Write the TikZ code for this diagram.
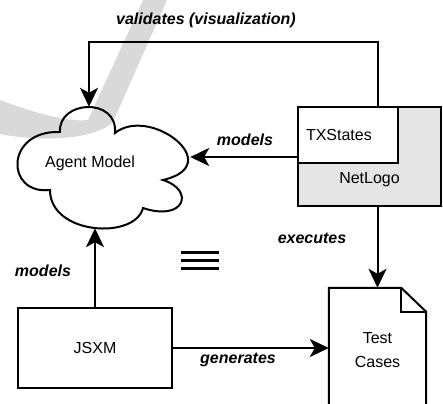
\documentclass[tikz,border=0pt]{standalone}
\usepackage{fontspec}
\setmainfont{Liberation Sans}
\usetikzlibrary{arrows.meta,calc}

\begin{document}
\begin{tikzpicture}[x=1pt,y=-1pt,
  every node/.style={font=\fontsize{16}{19}\selectfont},
  box/.style={draw,line width=2pt,inner sep=0pt},
  lbl/.style={font=\fontsize{16}{19}\selectfont\bfseries\itshape},
  arr/.style={line width=2pt,-{Stealth[length=19pt,width=18pt,inset=5pt]}}]
\useasboundingbox (0,0) rectangle (443,403);
\clip (0,0) rectangle (443,403);
\fill[black!15] (0,100) .. controls (40,115) and (70,122) .. (88,120) -- (143,0) -- (167,0) -- (113,122) .. controls (95,140) and (40,142) .. (0,134) -- cycle;
\node[box,minimum width=154pt,minimum height=80pt] (jsxm) at (95,348) {JSXM};
\node[box,fill=black!10,minimum width=143pt,minimum height=99pt,label={[yshift=-23pt]center:NetLogo}] (netlogo) at (369.5,156.5) {};
\node[box,fill=white,minimum width=100pt,minimum height=56pt,text width=84pt,inner xsep=8pt,align=left] (txs) at (348,135) {TXStates};
\node[minimum width=172pt,minimum height=121pt,inner sep=0pt,label={[xshift=-14pt,yshift=4pt]center:Agent Model}] (agent) at (104,167.5) {};
\draw[line width=2pt] (60,132) .. controls (58,100) and (118,97) .. (115,133) .. controls (150,105) and (228,165) .. (163,180) .. controls (195,190) and (185,222) .. (143,208) .. controls (135,240) and (50,235) .. (50,190) .. controls (5,195) and (5,130) .. (60,132) -- cycle;
\foreach \y in {252,260,268} \draw[line width=3pt] (181,\y) -- (219,\y);
\node[minimum width=97pt,minimum height=124pt,inner sep=0pt,align=center,font=\fontsize{16}{24}\selectfont] (doc) at (377.5,350) {Test\\Cases};
\draw[line width=2pt] (doc.south west) -- (doc.north west) -- ([xshift=-25pt]doc.north east) -- ([yshift=-24pt]doc.north east) -- (doc.south east) -- cycle;
\draw[line width=2pt] ([xshift=-25pt]doc.north east) -- ++(0,24) -- ([yshift=-24pt]doc.north east);
\draw[arr] (doc.north |- netlogo.south) -- (doc.north);
\draw[arr] (jsxm.east) -- (jsxm.east -| doc.west);
\draw[arr] (jsxm.north) -- (jsxm.north |- agent.south);
\coordinate (mo) at ([yshift=-22pt]txs.west);
\draw[arr] (mo) -- (mo -| agent.east);
\draw[arr] (doc.north |- txs.north) -- ++(0,-64) -| ([xshift=-15pt]agent.north);
\node[lbl] (vlab) at (206,20) {validates (visualization)};
\node[lbl] (mlab) at (245,140) {models};
\node[lbl] (mlab2) at (43,271) {models};
\node[lbl] (elab) at (312,238) {executes};
\node[lbl] (glab) at (238,360) {generates};
\end{tikzpicture}
\end{document}
